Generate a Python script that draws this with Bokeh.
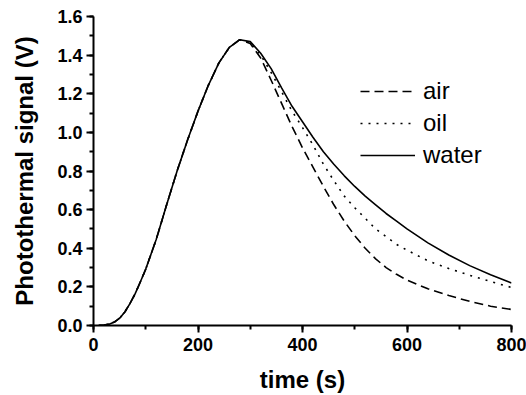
from bokeh.plotting import figure
from bokeh.models import SingleIntervalTicker, PrintfTickFormatter, Legend, LegendItem, Range1d
from bokeh.embed import file_html
from bokeh.resources import INLINE

# shared rising part (all three media coincide)
t_rise = [10, 20, 30, 40, 50, 60, 70, 80, 90, 100, 120, 140, 160, 180, 200, 220, 240, 260, 280]
v_rise = [0.0, 0.002, 0.007, 0.018, 0.038, 0.07, 0.115, 0.166, 0.228, 0.292, 0.445, 0.625, 0.80, 0.96, 1.11, 1.245, 1.36, 1.44, 1.48]

# decay part
t_decay = [300, 320, 340, 360, 380, 400, 420, 440, 460, 480, 500, 520, 540, 560, 580, 600, 640, 680, 720, 760, 800]
air = [1.46, 1.385, 1.27, 1.15, 1.03, 0.92, 0.82, 0.72, 0.625, 0.54, 0.465, 0.40, 0.345, 0.30, 0.265, 0.235, 0.19, 0.155, 0.125, 0.10, 0.083]
oil = [1.465, 1.40, 1.31, 1.21, 1.11, 1.025, 0.935, 0.835, 0.75, 0.67, 0.61, 0.555, 0.50, 0.46, 0.42, 0.39, 0.335, 0.295, 0.26, 0.228, 0.197]
water = [1.47, 1.41, 1.33, 1.23, 1.135, 1.055, 0.975, 0.90, 0.835, 0.775, 0.72, 0.67, 0.625, 0.58, 0.54, 0.50, 0.428, 0.365, 0.31, 0.263, 0.22]

series_names = ["air", "oil", "water"]
series_values = [air, oil, water]
dashes = ["9 5", "2 6", "solid"]

FONT = "Liberation Sans"

p = figure(width=526, height=395, output_backend="svg", toolbar_location=None,
           x_range=Range1d(0, 800), y_range=Range1d(0, 1.6),
           min_border_left=93, min_border_right=15, min_border_top=16, min_border_bottom=70)
p.outline_line_color = None
p.xgrid.visible = False
p.ygrid.visible = False
p.background_fill_color = "white"

items = []
t_all = t_rise + t_decay
for name, vals, dash in zip(series_names, series_values, dashes):
    r = p.line(t_all, v_rise + vals, line_color="black", line_width=1.6, line_dash=dash)
    items.append(LegendItem(label=name, renderers=[r]))

legend = Legend(items=items, location=(267, 155), border_line_color=None,
                background_fill_alpha=0, padding=0, margin=0, spacing=2,
                glyph_width=55, glyph_height=30, label_height=30, label_standoff=8,
                label_text_font=FONT, label_text_font_size="24px", label_text_color="black")
p.add_layout(legend)

for ax in (p.xaxis[0], p.yaxis[0]):
    ax.axis_line_width = 2
    ax.axis_line_color = "black"
    ax.major_tick_line_width = 2
    ax.minor_tick_line_width = 2
    ax.major_tick_in = 0
    ax.major_tick_out = 7
    ax.minor_tick_in = 0
    ax.minor_tick_out = 4
    ax.major_label_text_font = FONT
    ax.major_label_text_font_style = "bold"
    ax.major_label_text_font_size = "18px"
    ax.major_label_text_color = "black"
    ax.axis_label_text_font = FONT
    ax.axis_label_text_font_style = "bold"
    ax.axis_label_text_font_size = "24px"
    ax.axis_label_text_color = "black"

p.xaxis.ticker = SingleIntervalTicker(interval=200, num_minor_ticks=2)
p.yaxis.ticker = SingleIntervalTicker(interval=0.2, num_minor_ticks=2)
p.yaxis.formatter = PrintfTickFormatter(format="%.1f")
p.xaxis.axis_label = "time (s)"
p.yaxis.axis_label = "Photothermal signal (V)"
p.xaxis.major_label_standoff = 5
p.yaxis.major_label_standoff = 4
p.xaxis.axis_label_standoff = 12
p.yaxis.axis_label_standoff = 16

open("out.html", "w").write(file_html(p, INLINE))
